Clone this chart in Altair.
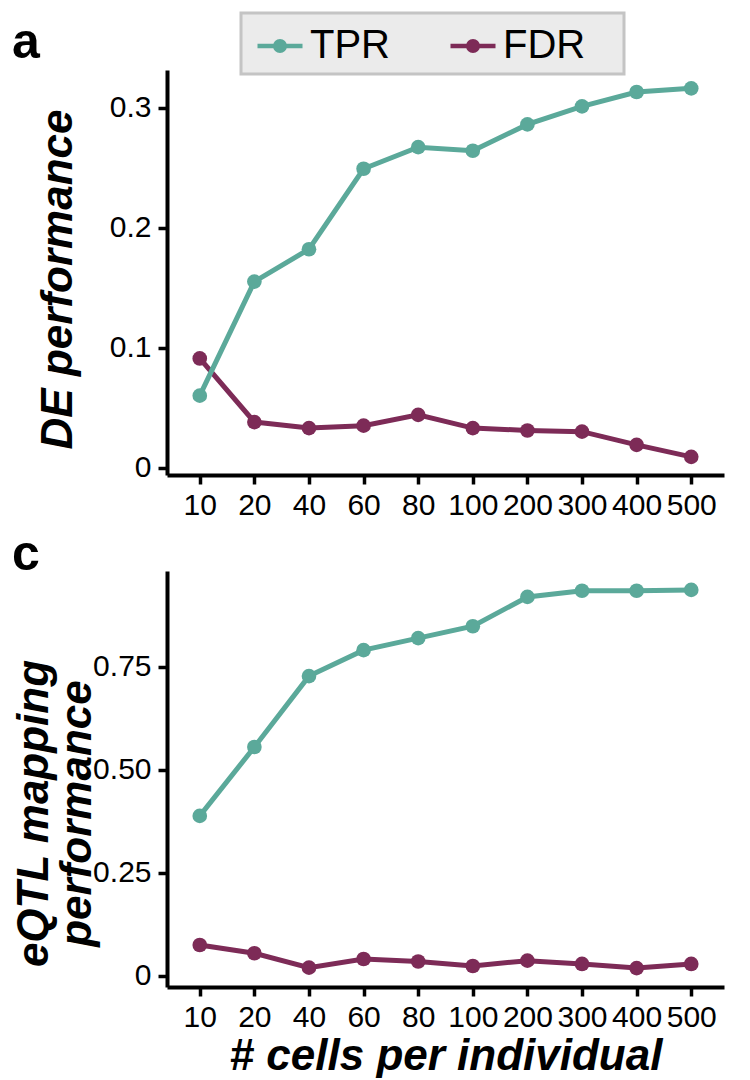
import altair as alt
import pandas as pd

cells = ["10", "20", "40", "60", "80", "100", "200", "300", "400", "500"]
series = ["TPR", "FDR"]
colors = ["#5BA99A", "#7D2B57"]

de_tpr = [0.060, 0.155, 0.182, 0.249, 0.267, 0.264, 0.286, 0.301, 0.313, 0.316]
de_fdr = [0.091, 0.038, 0.033, 0.035, 0.044, 0.033, 0.031, 0.030, 0.019, 0.009]
eqtl_tpr = [0.388, 0.555, 0.727, 0.790, 0.819, 0.848, 0.919, 0.934, 0.934, 0.936]
eqtl_fdr = [0.075, 0.055, 0.020, 0.041, 0.035, 0.024, 0.037, 0.029, 0.019, 0.029]

de_ticks = [0, 0.1, 0.2, 0.3]
eqtl_ticks = [0, 0.25, 0.5, 0.75]

FONT = "Liberation Sans"
LEFT = -155


def long_df(tpr, fdr):
    rows = []
    for name, vals in (("FDR", fdr), ("TPR", tpr)):
        for i, (c, v) in enumerate(zip(cells, vals)):
            rows.append({"cells": c, "series": name, "value": v, "idx": i})
    return pd.DataFrame(rows)


def circle(r):
    return f"M{-r},0A{r},{r},0,1,0,{r},0A{r},{r},0,1,0,{-r},0"


sym_path = "M-1,0L1,0" + "".join(circle(r) for r in (0.211, 0.16, 0.111, 0.06, 0.02))

legend = alt.Legend(
    title=None, orient="none", legendX=74, legendY=-57, direction="horizontal",
    symbolType=sym_path, symbolSize=2025, symbolStrokeWidth=4.5, symbolOffset=6,
    labelFont=FONT, labelFontSize=40, labelColor="black", labelOffset=5,
    columnPadding=51, padding=8, fillColor="#EBEBEB", strokeColor="#C4C4C4",
    labelExpr="datum.label == 'FDR' ? 'FDR\u00a0\u00a0\u2009\u200b' : datum.label",
)


def panel(df, ydomain, yticks, fmt, ytitle, tx, ty, height, label, label_y,
          label_baseline, xtitle, leg):
    x = alt.X("cells:N", sort=cells,
              scale=alt.Scale(type="point", padding=0.6),
              axis=alt.Axis(title=xtitle, labelAngle=0, labelPadding=6,
                            titlePadding=2))
    y = alt.Y("value:Q",
              scale=alt.Scale(domain=ydomain, nice=False, zero=False),
              axis=alt.Axis(title=ytitle, values=yticks, labelPadding=7,
                            labelExpr=f"datum.value == 0 ? '0' : format(datum.value, '{fmt}')",
                            titleX=tx, titleY=ty, titleAngle=270,
                            titleAlign="center", titleBaseline="bottom",
                            titleLineHeight=43))
    base = alt.Chart(df)
    lines = base.mark_line(strokeWidth=5).encode(
        x=x, y=y,
        color=alt.Color("series:N", scale=alt.Scale(domain=series, range=colors),
                        legend=leg),
        order=alt.Order("idx:Q"),
    )
    pts = base.mark_point(filled=True, size=215, opacity=1).encode(
        x=x, y=y,
        fill=alt.Fill("series:N", scale=alt.Scale(domain=series, range=colors),
                      legend=None),
    )
    txt = alt.Chart(pd.DataFrame({"t": [label]})).mark_text(
        font=FONT, fontSize=50, fontWeight="bold", align="left",
        baseline=label_baseline, color="black",
    ).encode(x=alt.value(LEFT), y=alt.value(label_y), text="t:N")
    return alt.layer(lines, pts, txt).properties(width=557, height=height)


top = panel(long_df(de_tpr, de_fdr), [-0.0061, 0.3313], de_ticks, ".1f",
            "DE performance", -87, 209, 405, "a", -52, "top", None, legend)
bottom = panel(long_df(eqtl_tpr, eqtl_fdr), [-0.0269, 0.9819], eqtl_ticks, ".2f",
               ["eQTL mapping", "performance"], -111, 242, 416, "c", -1,
               "alphabetic", "# cells per individual", None)

chart = alt.vconcat(top, bottom, spacing=96, bounds="flush").resolve_scale(
    color="independent", fill="independent", x="independent", y="independent"
).properties(
    padding={"left": 4, "top": 3, "right": 10, "bottom": 0}
).configure_view(stroke=None).configure_axis(
    grid=False, domainColor="black", domainWidth=4, tickColor="black",
    tickWidth=3.5, tickSize=9, labelFont=FONT, labelFontSize=30,
    labelColor="black", titleFont=FONT, titleFontSize=44,
    titleFontWeight="bold", titleFontStyle="italic", titleColor="black",
).configure_legend(strokeWidth=3)

chart.save("out.html", embed_options={"renderer": "svg", "actions": False})
